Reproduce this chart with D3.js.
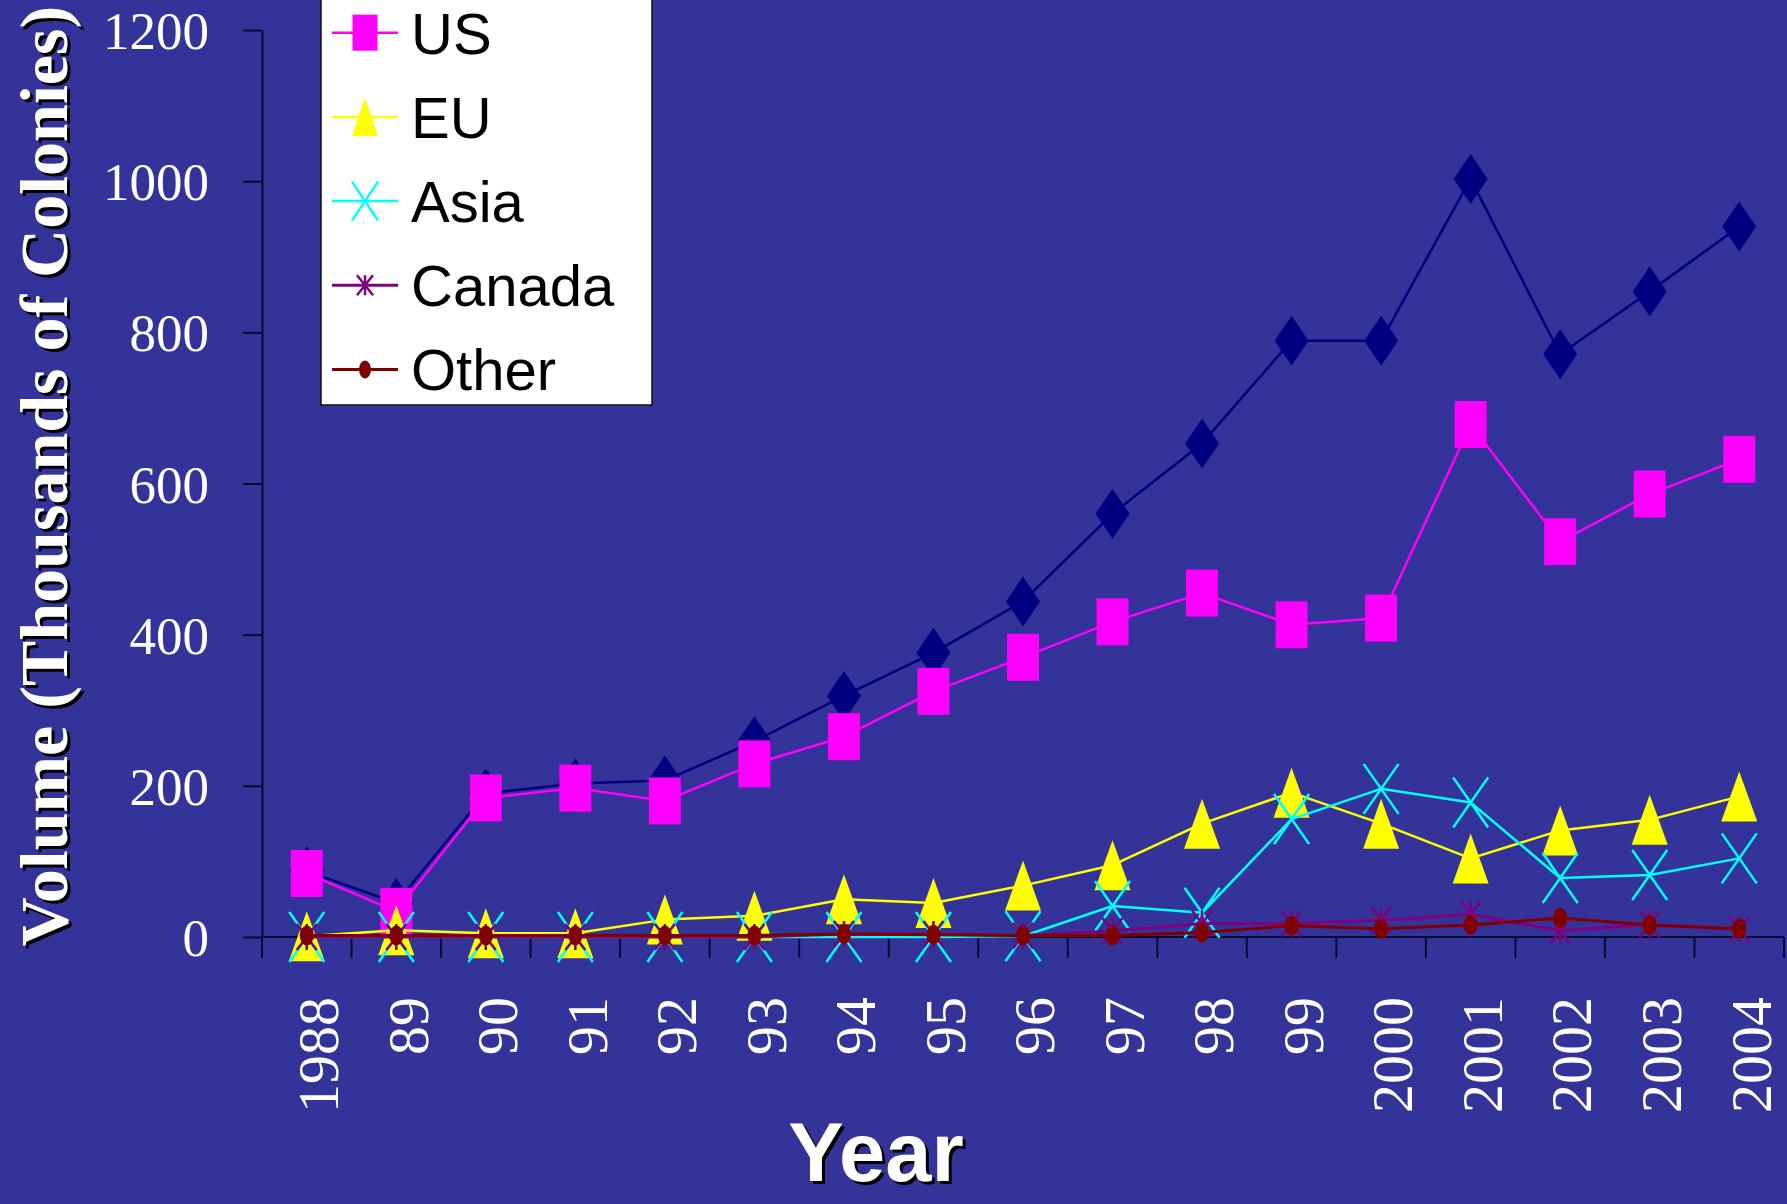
<!DOCTYPE html>
<html>
<head>
<meta charset="utf-8">
<script src="https://cdn.jsdelivr.net/npm/d3@7"></script>
<style>
  html, body { margin: 0; padding: 0; background: #333399; overflow: hidden; }
  svg { display: block; }
</style>
</head>
<body>
<svg id="chart" width="1787" height="1204"></svg>
<script>
// Colony volumes by region, thousands of colonies
const years = ["1988","89","90","91","92","93","94","95","96","97","98","99","2000","2001","2002","2003","2004"];
const total  = [87, 45, 190, 203, 207, 259, 319, 376, 444, 560, 653, 789, 789, 1003, 771, 854, 940];
const us     = [84, 34, 184, 197, 180, 229, 265, 325, 370, 417, 455, 413, 422, 678, 523, 586, 632];
const eu     = [1, 9, 5, 5, 23, 28, 50, 45, 68, 95, 150, 191, 150, 104, 141, 155, 186];
const asia   = [0, 0, 0, 0, 0, 0, 0, 0, 1, 41, 32, 156, 196, 178, 78, 82, 104];
const canada = [0, 0, 0, 0, 0, 0, 4, 4, 2, 8, 18, 18, 22, 30, 8, 17, 10];
const other  = [2, 2, 2, 2, 2, 2, 4, 3, 2, 2, 6, 15, 11, 16, 25, 16, 11];
const yTicks = [0, 200, 400, 600, 800, 1000, 1200];

const seriesList = [
  { name: "Total",  values: total,  color: "#000080", marker: "diamond",  width: 2.5 },
  { name: "US",     values: us,     color: "#FF00FF", marker: "square",   width: 2.5 },
  { name: "EU",     values: eu,     color: "#FFFF00", marker: "triangle", width: 2.5 },
  { name: "Asia",   values: asia,   color: "#00FFFF", marker: "x",        width: 2.5 },
  { name: "Canada", values: canada, color: "#800080", marker: "star",     width: 3 },
  { name: "Other",  values: other,  color: "#800000", marker: "circle",   width: 3 }
];

const svg = d3.select("#chart");
const serif = "'Liberation Serif', 'Times New Roman', serif";
const sans = "'Liberation Sans', Arial, sans-serif";
const axisColor = "#0a0a30";

const x = d3.scaleBand().domain(years).range([262, 1784]).padding(0);
const cx = d => x(d) + x.bandwidth() / 2;
const y = d3.scaleLinear().domain([0, 1200]).range([937, 30]);

// Y axis
const yAxis = svg.append("g")
  .attr("transform", "translate(262,0)")
  .call(d3.axisLeft(y).tickValues(yTicks).tickFormat(d3.format("d"))
    .tickSize(19).tickPadding(34).tickSizeOuter(0));
yAxis.select(".domain").attr("stroke", axisColor).attr("stroke-width", 2);
yAxis.selectAll(".tick line").attr("stroke", axisColor).attr("stroke-width", 2);
yAxis.selectAll(".tick text")
  .attr("fill", "#fff")
  .attr("font-family", serif)
  .attr("font-size", 53)
  .attr("dy", "0.35em");

// X axis line and tick marks on category boundaries
svg.append("line")
  .attr("x1", 262).attr("x2", 1784)
  .attr("y1", y(0)).attr("y2", y(0))
  .attr("stroke", axisColor).attr("stroke-width", 2);
const boundaries = years.map(d => x(d)).concat([x.range()[1]]);
svg.append("g").selectAll("line").data(boundaries).join("line")
  .attr("x1", d => d).attr("x2", d => d)
  .attr("y1", y(0)).attr("y2", y(0) + 21)
  .attr("stroke", axisColor).attr("stroke-width", 2);

// Rotated year labels
svg.append("g").selectAll("text").data(years).join("text")
  .attr("transform", d => `translate(${cx(d) + 11},997) rotate(-90)`)
  .attr("text-anchor", "end")
  .attr("dy", "0.35em")
  .attr("fill", "#fff")
  .attr("font-family", serif)
  .attr("font-size", 58)
  .text(d => d);

// Axis titles with drop shadow
function shadowText(g, tx, ty, rot, txt, family, size, weight) {
  [[3, 3, "#000"], [0, 0, "#fff"]].forEach(([ox, oy, fill]) => {
    g.append("text")
      .attr("transform", `translate(${tx + ox},${ty + oy}) rotate(${rot})`)
      .attr("text-anchor", "middle")
      .attr("dy", rot ? "0.35em" : null)
      .attr("fill", fill)
      .attr("font-family", family)
      .attr("font-size", size)
      .attr("font-weight", weight)
      .text(txt);
  });
}
shadowText(svg.append("g"), 43, 476, -90, "Volume (Thousands of Colonies)", serif, 68, "bold");
shadowText(svg.append("g"), 876, 1181, 0, "Year", sans, 83, "bold");

// Marker drawing
function drawMarker(g, type, color, w, h) {
  const hw = w / 2, hh = h / 2;
  if (type === "diamond") {
    g.append("path").attr("d", `M0,${-hh}L${hw},0L0,${hh}L${-hw},0Z`).attr("fill", color);
  } else if (type === "square") {
    g.append("rect").attr("x", -hw).attr("y", -hh).attr("width", w).attr("height", h).attr("fill", color);
  } else if (type === "triangle") {
    g.append("path").attr("d", `M0,${-hh}L${hw},${hh}L${-hw},${hh}Z`).attr("fill", color);
  } else if (type === "x") {
    g.append("path").attr("d", `M${-hw},${-hh}L${hw},${hh}M${hw},${-hh}L${-hw},${hh}`)
      .attr("stroke", color).attr("stroke-width", 2.5).attr("fill", "none");
  } else if (type === "star") {
    g.append("path").attr("d", `M${-hw},${-hh}L${hw},${hh}M${hw},${-hh}L${-hw},${hh}M0,${-hh}L0,${hh}`)
      .attr("stroke", color).attr("stroke-width", 2.5).attr("fill", "none");
  } else if (type === "circle") {
    g.append("ellipse").attr("rx", hw).attr("ry", hh).attr("fill", color);
  }
}
const chartSize = { diamond: [34, 50], square: [32, 47], triangle: [36, 50], x: [35, 50], star: [20, 26], circle: [14, 20] };
const legendSize = { diamond: [26, 38], square: [25, 36], triangle: [26, 38], x: [26, 39], star: [16, 20], circle: [12, 18] };

const line = d3.line().x((v, i) => cx(years[i])).y(v => y(v));
const plot = svg.append("g");
seriesList.forEach(s => {
  const g = plot.append("g");
  g.append("path").attr("d", line(s.values))
    .attr("fill", "none").attr("stroke", s.color).attr("stroke-width", s.width)
    .attr("stroke-linejoin", "round");
  s.values.forEach((v, i) => {
    const m = g.append("g").attr("transform", `translate(${cx(years[i])},${y(v)})`);
    drawMarker(m, s.marker, s.color, ...chartSize[s.marker]);
  });
});

// Legend: the box runs past the top of the page, so only the rows below it are drawn
const legend = svg.append("g");
const rowGap = 84.2, firstRow = 32.7 - rowGap;
legend.append("rect")
  .attr("x", 321).attr("y", firstRow - 45)
  .attr("width", 331).attr("height", 405 - (firstRow - 45))
  .attr("fill", "#fff").attr("stroke", "#111").attr("stroke-width", 1.5);
seriesList.forEach((s, i) => {
  const ry = firstRow + i * rowGap;
  if (ry < 0) return;
  const row = legend.append("g").attr("transform", `translate(0,${ry})`);
  row.append("line").attr("x1", 332).attr("x2", 398).attr("y1", 0).attr("y2", 0)
    .attr("stroke", s.color).attr("stroke-width", s.width);
  drawMarker(row.append("g").attr("transform", "translate(365,0)"), s.marker, s.color, ...legendSize[s.marker]);
  row.append("text").attr("x", 411).attr("y", 0).attr("dy", "0.36em")
    .attr("font-family", sans).attr("font-size", 58).attr("fill", "#000")
    .text(s.name);
});
</script>
</body>
</html>
